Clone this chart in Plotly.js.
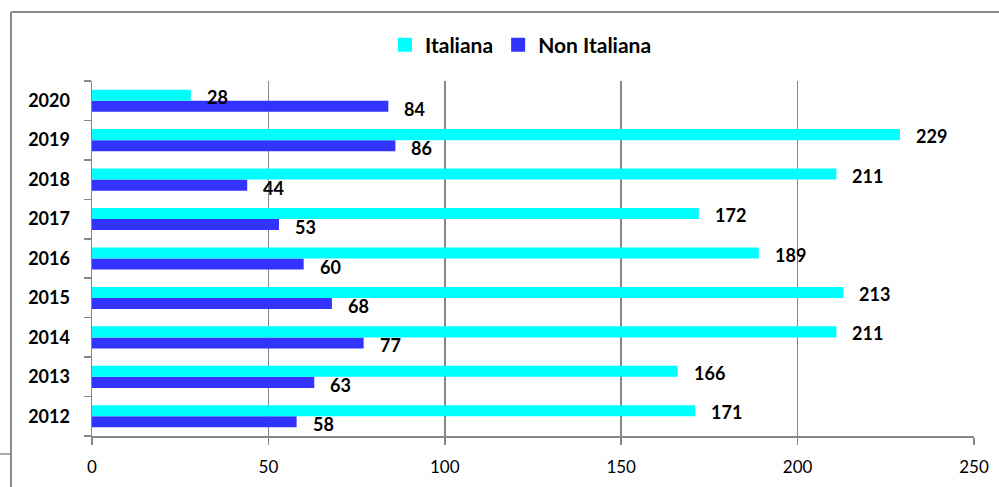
<!DOCTYPE html>
<html>
<head>
<meta charset="utf-8">
<script src="https://cdn.plot.ly/plotly-3.0.1.min.js"></script>
<style>
html,body{margin:0;padding:0;background:#fff;}
#chart{width:999px;height:487px;}
</style>
</head>
<body>
<div id="chart"></div>
<script>
var years = ["2012","2013","2014","2015","2016","2017","2018","2019","2020"];
var italiana = [171,166,211,213,189,172,211,229,28];
var nonItaliana = [58,63,77,68,60,53,44,86,84];
var seriesNames = ["Italiana","Non Italiana"];
var colors = {italiana:"#00FFFF", non:"#3333FF"};

var W = 999, H = 487;
var mL = 92, mR = 25, mT = 81, mB = 51;
var pw = W - mL - mR, ph = H - mT - mB;
function px2x(p){ return (p - mL) / pw; }
function px2y(p){ return (H - mB - p) / ph; }

var traces = [
  {type:"bar", orientation:"h", name:seriesNames[1], y:years, x:nonItaliana, showlegend:false,
   marker:{color:colors.non, line:{width:0}}, hoverinfo:"x"},
  {type:"bar", orientation:"h", name:seriesNames[0], y:years, x:italiana, showlegend:false,
   marker:{color:colors.italiana, line:{width:0}}, hoverinfo:"x"},
  // legend-only entries (larger square swatches like the reference)
  {type:"scatter", mode:"markers", name:seriesNames[0], x:[null], y:[null], showlegend:true,
   marker:{symbol:"square", size:14, color:colors.italiana, line:{width:0}}, legendrank:1},
  {type:"scatter", mode:"markers", name:seriesNames[1], x:[null], y:[null], showlegend:true,
   marker:{symbol:"square", size:14, color:colors.non, line:{width:0}}, legendrank:2}
];

var lblFont = {family:"Lato, 'DejaVu Sans', sans-serif", size:18, color:"#000", weight:"bold"};
var annotations = [];
for (var i=0;i<years.length;i++){
  annotations.push({x:italiana[i], y:i, xref:"x", yref:"y", text:"<b>"+italiana[i]+"</b>",
    showarrow:false, xanchor:"left", yanchor:"middle", xshift:14, yshift:4, font:lblFont});
  annotations.push({x:nonItaliana[i], y:i, xref:"x", yref:"y", text:"<b>"+nonItaliana[i]+"</b>",
    showarrow:false, xanchor:"left", yanchor:"middle", xshift:14, yshift:-8, font:lblFont});
}

var gray = "#878787";
var frame = "#8c8c8c";
var shapes = [
  {type:"line", xref:"paper", yref:"paper", x0:px2x(11), x1:px2x(1005), y0:px2y(12), y1:px2y(12), line:{color:frame, width:2}, layer:"below"},
  {type:"line", xref:"paper", yref:"paper", x0:px2x(11), x1:px2x(11), y0:px2y(12), y1:px2y(495), line:{color:frame, width:2}, layer:"below"},
  {type:"line", xref:"paper", yref:"paper", x0:px2x(-5), x1:px2x(11), y0:px2y(454), y1:px2y(454), line:{color:frame, width:1.5}, layer:"below"}
];

var layout = {
  width:W, height:H,
  margin:{l:mL, r:mR, t:mT, b:mB, pad:0},
  paper_bgcolor:"#fff", plot_bgcolor:"#fff",
  barmode:"group", bargap:0.44, bargroupgap:0,
  font:{family:"Lato, 'DejaVu Sans', sans-serif", color:"#000"},
  showlegend:true,
  legend:{orientation:"h", x:px2x(521), xanchor:"center", y:px2y(45), yanchor:"middle",
    traceorder:"normal", font:{family:"Lato, sans-serif", size:21, color:"#000", weight:"bold"},
    itemwidth:30, itemsizing:"trace", bgcolor:"rgba(0,0,0,0)"},
  xaxis:{range:[0,250], autorange:false, dtick:50, tick0:0, showgrid:true, gridcolor:gray, gridwidth:1.5,
    zeroline:false, showline:true, linecolor:gray, linewidth:1.5,
    ticks:"outside", ticklen:7, tickcolor:gray, tickwidth:1.5,
    tickfont:{family:"Lato, sans-serif", size:17, color:"#000"}, ticklabelstandoff:8, fixedrange:true},
  yaxis:{type:"category", categoryorder:"array", categoryarray:years, range:[-0.5, years.length-0.5], autorange:false,
    showgrid:false, zeroline:false, showline:true, linecolor:gray, linewidth:1.5,
    ticks:"outside", ticklen:7, tickcolor:gray, tickwidth:1.5, tickson:"boundaries",
    tickfont:{family:"Lato, sans-serif", size:18, color:"#000", weight:"bold"}, ticklabelstandoff:17, fixedrange:true},
  annotations:annotations,
  shapes:shapes
};

Plotly.newPlot("chart", traces, layout, {displayModeBar:false, staticPlot:true});
</script>
</body>
</html>
